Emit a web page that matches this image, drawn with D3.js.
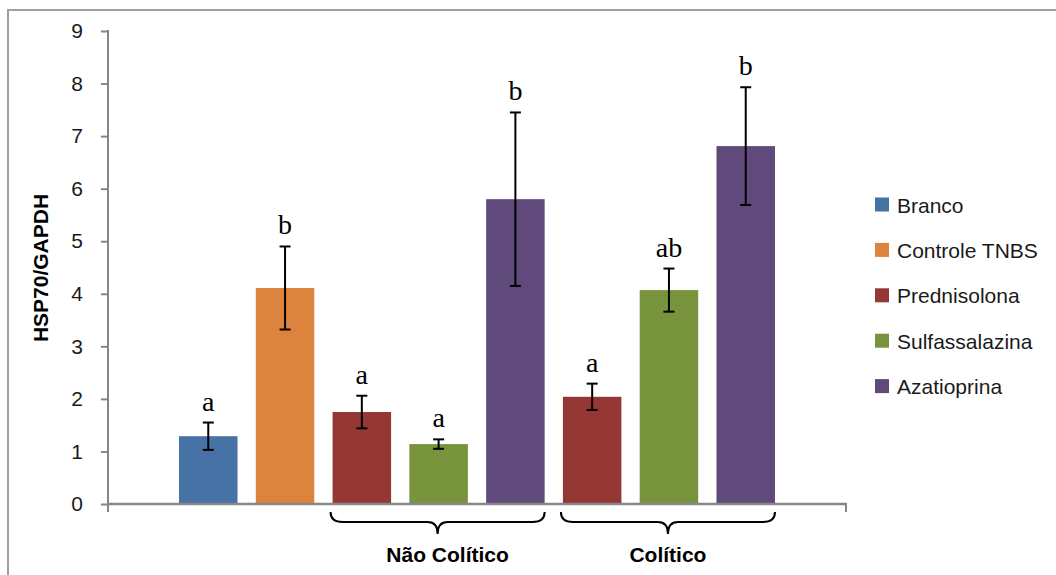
<!DOCTYPE html>
<html>
<head>
<meta charset="utf-8">
<script src="https://cdn.jsdelivr.net/npm/d3@7/dist/d3.min.js"></script>
<style>
  html, body { margin: 0; padding: 0; background: #fff; }
  svg { display: block; }
</style>
</head>
<body>
<svg id="chart" width="1056" height="575"></svg>
<script>
// HSP70/GAPDH expression per treatment group (mean ± error)
const seriesNames = ["Branco", "Controle TNBS", "Prednisolona", "Sulfassalazina", "Azatioprina"];
const seriesColors = ["#4672A6", "#DC843E", "#953735", "#77933C", "#604A7B"];

const barKeys   = ["b0", "b1", "b2", "b3", "b4", "b5", "b6", "b7"];
const barSeries = ["Branco", "Controle TNBS", "Prednisolona", "Sulfassalazina", "Azatioprina",
                   "Prednisolona", "Sulfassalazina", "Azatioprina"];
const means   = [1.29, 4.11, 1.75, 1.14, 5.80, 2.04, 4.07, 6.81];
const errors  = [0.26, 0.79, 0.31, 0.09, 1.65, 0.25, 0.41, 1.12];
const letters = ["a", "b", "a", "a", "b", "a", "ab", "b"];

const groupNames   = ["Não Colítico", "Colítico"];
const groupMembers = [["b2", "b3", "b4"], ["b5", "b6", "b7"]];

const yTicks = [0, 1, 2, 3, 4, 5, 6, 7, 8, 9];
const yTitle = "HSP70/GAPDH";

const svg = d3.select("#chart");
const axisColor = "#868686";
const sans = "'Liberation Sans', Arial, sans-serif";
const serif = "'Liberation Serif', 'Times New Roman', serif";

// outer chart frame (only top and left edges fall inside the view)
svg.append("rect")
  .attr("x", 8).attr("y", 10)
  .attr("width", 1100).attr("height", 620)
  .attr("fill", "none").attr("stroke", "#a0a0a0").attr("stroke-width", 2);

const x = d3.scaleBand().domain(barKeys).range([108, 846])
  .paddingInner(0.238).paddingOuter(0.925);
const y = d3.scaleLinear().domain([0, 9]).range([504, 31]);

const color = d3.scaleOrdinal().domain(seriesNames).range(seriesColors);

// y axis
const yAxis = svg.append("g")
  .attr("transform", "translate(108,0)")
  .call(d3.axisLeft(y).tickValues(yTicks).tickSize(7).tickSizeOuter(0).tickPadding(18));
yAxis.select(".domain").remove();
yAxis.selectAll(".tick line").attr("stroke", axisColor).attr("stroke-width", 2);
yAxis.selectAll(".tick text")
  .attr("fill", "#1a1a1a").style("font-family", sans).style("font-size", "21px");

svg.append("line")
  .attr("x1", 108).attr("x2", 108)
  .attr("y1", y(9) - 1).attr("y2", y(0) + 7)
  .attr("stroke", axisColor).attr("stroke-width", 2);

// bars
const bars = barKeys.map((k, i) => ({ key: k, series: barSeries[i], mean: means[i], err: errors[i], letter: letters[i] }));

svg.append("g").selectAll("rect").data(bars).join("rect")
  .attr("x", d => x(d.key))
  .attr("y", d => y(d.mean))
  .attr("width", x.bandwidth())
  .attr("height", d => y(0) - y(d.mean))
  .attr("fill", d => color(d.series));

// x axis baseline with end ticks
svg.append("line")
  .attr("x1", 107).attr("x2", 847)
  .attr("y1", y(0)).attr("y2", y(0))
  .attr("stroke", axisColor).attr("stroke-width", 2.5);
[108, 846].forEach(px => {
  svg.append("line")
    .attr("x1", px).attr("x2", px)
    .attr("y1", y(0)).attr("y2", y(0) + 8)
    .attr("stroke", axisColor).attr("stroke-width", 2);
});

// error bars
const eb = svg.append("g").attr("stroke", "#000").attr("stroke-width", 2);
bars.forEach(d => {
  const cx = x(d.key) + x.bandwidth() / 2;
  const top = y(d.mean + d.err), bot = y(d.mean - d.err);
  eb.append("line").attr("x1", cx).attr("x2", cx).attr("y1", top).attr("y2", bot);
  eb.append("line").attr("x1", cx - 5.5).attr("x2", cx + 5.5).attr("y1", top).attr("y2", top);
  eb.append("line").attr("x1", cx - 5.5).attr("x2", cx + 5.5).attr("y1", bot).attr("y2", bot);
});

// significance letters
svg.append("g").selectAll("text").data(bars).join("text")
  .attr("x", d => x(d.key) + x.bandwidth() / 2)
  .attr("y", d => y(d.mean + d.err) - 12)
  .attr("text-anchor", "middle")
  .style("font-family", serif).style("font-size", "28px")
  .attr("fill", "#000")
  .text(d => d.letter);

// group braces and labels
function bracePath(x0, x1, yTop, yLine, yTip) {
  const mid = (x0 + x1) / 2;
  const p = d3.path();
  p.moveTo(x0, yTop);
  p.quadraticCurveTo(x0, yLine, x0 + 12, yLine);
  p.lineTo(mid - 10, yLine);
  p.quadraticCurveTo(mid, yLine, mid, yTip);
  p.quadraticCurveTo(mid, yLine, mid + 10, yLine);
  p.lineTo(x1 - 12, yLine);
  p.quadraticCurveTo(x1, yLine, x1, yTop);
  return p.toString();
}

const labelShift = [10, 0];
groupMembers.forEach((members, gi) => {
  const x0 = x(members[0]) - 2;
  const x1 = x(members[members.length - 1]) + x.bandwidth();
  svg.append("path")
    .attr("d", bracePath(x0, x1, y(0) + 8, y(0) + 18, y(0) + 30))
    .attr("fill", "none").attr("stroke", "#000").attr("stroke-width", 2);
  svg.append("text")
    .attr("x", (x0 + x1) / 2 + labelShift[gi])
    .attr("y", 562)
    .attr("text-anchor", "middle")
    .style("font-family", sans).style("font-size", "21px").style("font-weight", "bold")
    .attr("fill", "#000")
    .text(groupNames[gi]);
});

// y axis title
svg.append("text")
  .attr("transform", "translate(48,268) rotate(-90)")
  .attr("text-anchor", "middle")
  .style("font-family", sans).style("font-size", "21px").style("font-weight", "bold")
  .attr("fill", "#000")
  .text(yTitle);

// legend
const legend = svg.append("g").selectAll("g").data(seriesNames).join("g")
  .attr("transform", (d, i) => `translate(875,${205 + i * 45.4})`);
legend.append("rect")
  .attr("x", 0).attr("y", -7.5).attr("width", 14).attr("height", 14)
  .attr("fill", d => color(d));
legend.append("text")
  .attr("x", 22).attr("y", 0).attr("dy", "0.36em")
  .style("font-family", sans).style("font-size", "21px")
  .attr("fill", "#1a1a1a")
  .text(d => d);
</script>
</body>
</html>
